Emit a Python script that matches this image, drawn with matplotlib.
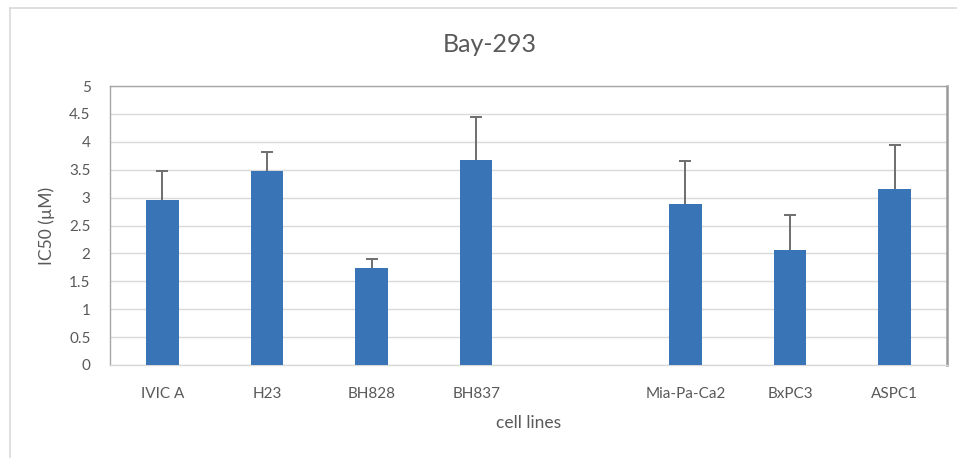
import matplotlib
matplotlib.use("Agg")
import matplotlib.pyplot as plt
from matplotlib.lines import Line2D
import numpy as np

plt.rcParams['font.family'] = ['Lato', 'DejaVu Sans']

categories = ["IVIC A", "H23", "BH828", "BH837", "", "Mia-Pa-Ca2", "BxPC3", "ASPC1"]
values = [2.95, 3.48, 1.73, 3.68, np.nan, 2.89, 2.06, 3.15]
errors = [0.53, 0.34, 0.17, 0.77, np.nan, 0.76, 0.62, 0.79]
y_ticks = [0, 0.5, 1, 1.5, 2, 2.5, 3, 3.5, 4, 4.5, 5]
y_tick_labels = ["0", "0.5", "1", "1.5", "2", "2.5", "3", "3.5", "4", "4.5", "5"]

text_color = "#595959"
bar_color = "#3874b6"

fig = plt.figure(figsize=(9.57, 4.58), dpi=100)
ax = fig.add_axes([110/957, 1 - 365/458, (947-110)/957, (365-86)/458])

x = np.arange(len(categories))
ax.bar(x, values, width=0.31, color=bar_color, zorder=3)
eb = ax.errorbar(x, values, yerr=[np.zeros(len(errors)), errors], fmt='none',
                 ecolor="#6e6e6e", elinewidth=1.4, capsize=4, capthick=1.4, zorder=4)
# keep only the upper caps
caplines = eb.lines[1]
if len(caplines) == 2:
    caplines[0].set_visible(False)

ax.set_xlim(-0.5, len(categories) - 0.5)
ax.set_ylim(0, 5)
ax.set_yticks(y_ticks)
ax.set_yticklabels(y_tick_labels)
ax.set_xticks(x)
ax.set_xticklabels(categories)
ax.yaxis.grid(True, color="#d9d9d9", linewidth=1.0, zorder=0)
ax.set_axisbelow(True)
ax.tick_params(axis='both', length=0, colors=text_color, labelsize=11)
ax.tick_params(axis='x', pad=16)
ax.tick_params(axis='y', pad=14)

for side in ['left', 'top']:
    ax.spines[side].set_color("#a6a6a6")
    ax.spines[side].set_linewidth(1.0)
ax.spines['right'].set_color("#999999")
ax.spines['right'].set_linewidth(1.8)
ax.spines['bottom'].set_color("#d9d9d9")
ax.spines['bottom'].set_linewidth(1.0)

ax.set_ylabel("IC50 (µM)", color=text_color, fontsize=12.5, labelpad=10)
ax.set_xlabel("cell lines", color=text_color, fontsize=12.5, labelpad=10)
fig.text(490/957, 1 - 44/458, "Bay-293", ha='center', va='center',
         color=text_color, fontsize=18)

# chart-area border (top and left visible)
fig.add_artist(Line2D([10/957, 10/957], [0, 1 - 8/458], transform=fig.transFigure,
                      color="#d9d9d9", linewidth=1.2))
fig.add_artist(Line2D([10/957, 1], [1 - 8/458, 1 - 8/458], transform=fig.transFigure,
                      color="#d9d9d9", linewidth=1.2))

fig.savefig("out.png", dpi=100)
